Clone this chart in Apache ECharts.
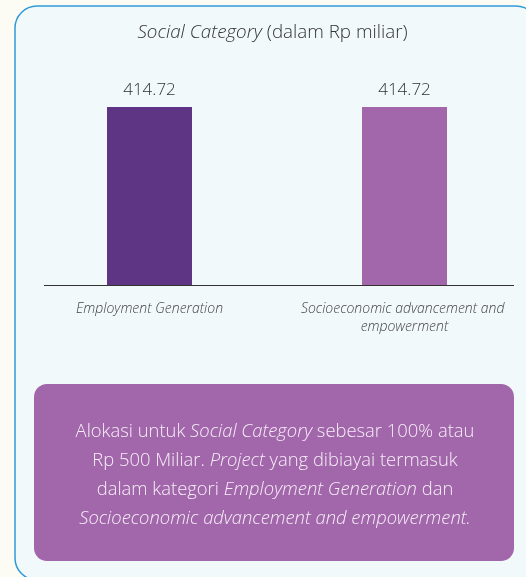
<!DOCTYPE html>
<html>
<head>
<meta charset="utf-8">
<script src="https://cdn.jsdelivr.net/npm/echarts@6/dist/echarts.min.js"></script>
<style>
  html, body { margin: 0; padding: 0; background: #fcfcf4; overflow: hidden; }
  #chart { width: 560px; height: 577px; }
</style>
</head>
<body>
<div id="chart"></div>
<script>
// Social category allocation (Rp miliar)
const categories = ['Employment Generation', 'Socioeconomic advancement and empowerment'];
const values = [414.72, 414.72];
const barColors = ['#5e3484', '#a267aa'];

const titleText = '{i|Social Category}{n| (dalam Rp miliar)}';
const noteLines = [
  '{n|Alokasi untuk }{i|Social Category}{n| sebesar 100% atau}',
  '{n|Rp 500 Miliar. }{i|Project}{n| yang dibiayai termasuk}',
  '{n|dalam kategori }{i|Employment Generation}{n| dan}',
  '{i|Socioeconomic advancement and empowerment.}'
];

const FONT = '"Open Sans", sans-serif';
const chart = echarts.init(document.getElementById('chart'), null, { renderer: 'canvas' });

function richStyle(size, color) {
  return {
    n: { fontFamily: FONT, fontSize: size, fontWeight: 300, fill: color },
    i: { fontFamily: FONT, fontSize: size, fontWeight: 300, fontStyle: 'italic', fill: color }
  };
}

const noteText = noteLines.map((line, k) => ({
  type: 'text',
  x: 275,
  y: 432 + k * 29,
  style: {
    text: line,
    align: 'center',
    verticalAlign: 'middle',
    rich: richStyle(18.4, '#f6eef8')
  },
  z: 12,
  silent: true
}));

chart.setOption({
  animation: false,
  backgroundColor: 'transparent',
  grid: { left: 22, width: 510, top: 70.4, bottom: 292, containLabel: false },
  xAxis: {
    type: 'category',
    data: categories,
    axisLine: { show: false },
    axisTick: { show: false },
    axisLabel: {
      interval: 0,
      margin: 15,
      width: 220,
      overflow: 'break',
      fontFamily: FONT,
      fontSize: 14,
      fontWeight: 300,
      fontStyle: 'italic',
      color: '#444',
      lineHeight: 18
    }
  },
  yAxis: {
    type: 'value',
    min: 0,
    max: 500,
    show: false
  },
  series: [{
    type: 'bar',
    barWidth: 85,
    data: values.map((v, i) => ({ value: v, itemStyle: { color: barColors[i] } })),
    label: {
      show: true,
      position: 'top',
      distance: 8,
      fontFamily: FONT,
      fontSize: 17,
      fontWeight: 300,
      color: '#333',
      formatter: p => p.value.toFixed(2)
    },
    z: 5
  }],
  graphic: [
    {
      type: 'rect',
      shape: { x: 15, y: 6, width: 523, height: 574, r: 22 },
      style: { fill: '#f2f9fb', stroke: '#2f9ad8', lineWidth: 1.5 },
      z: -10,
      silent: true
    },
    {
      type: 'text',
      x: 272.5,
      y: 33,
      style: {
        text: titleText,
        align: 'center',
        verticalAlign: 'middle',
        rich: richStyle(18.8, '#333')
      },
      z: 8,
      silent: true
    },
    {
      type: 'line',
      shape: { x1: 44, y1: 285.5, x2: 514, y2: 285.5 },
      style: { stroke: '#333', lineWidth: 1 },
      z: 6,
      silent: true
    },
    {
      type: 'rect',
      shape: { x: 34, y: 384, width: 480, height: 177, r: 13 },
      style: { fill: '#a267aa' },
      z: 10,
      silent: true
    },
    ...noteText
  ]
});
</script>
</body>
</html>
